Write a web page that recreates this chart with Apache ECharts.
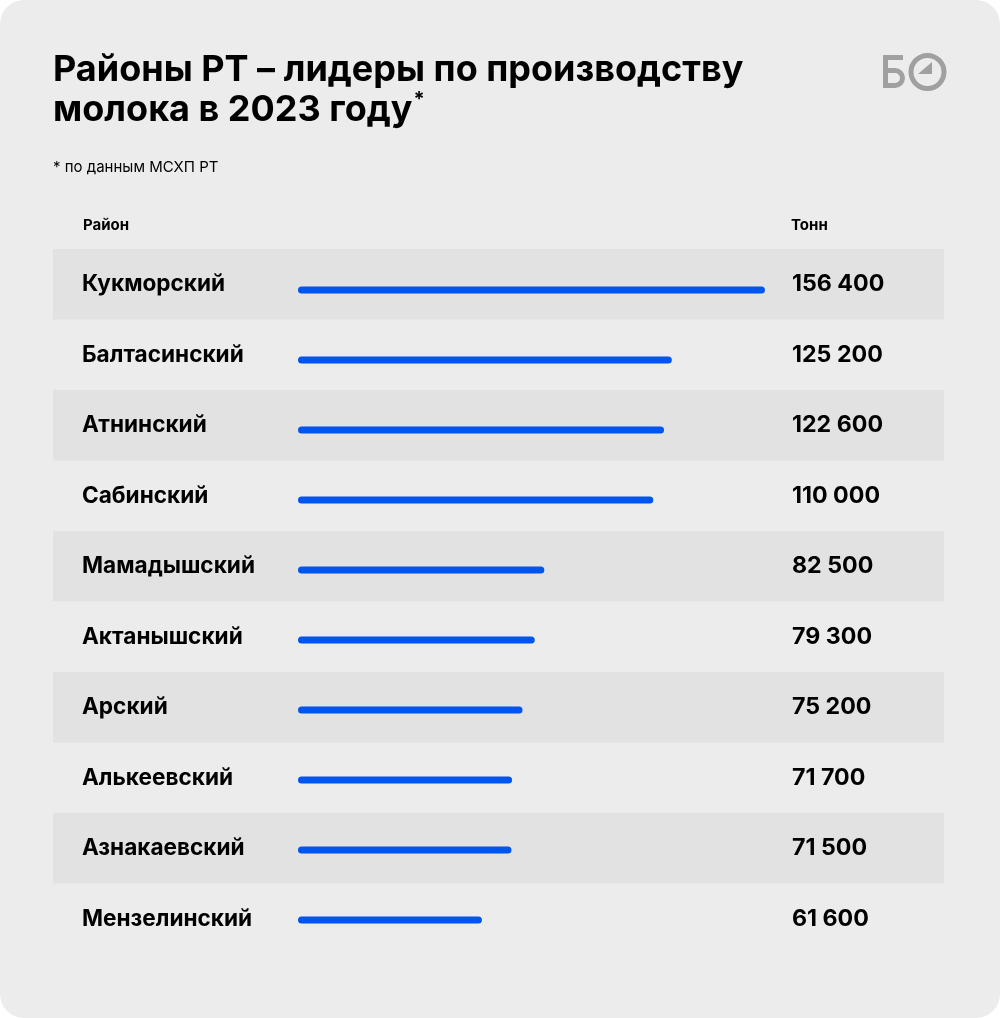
<!DOCTYPE html>
<html><head><meta charset="utf-8">
<script src="https://cdn.jsdelivr.net/npm/echarts@6/dist/echarts.min.js"></script>
<style>
html,body{margin:0;padding:0;background:#ffffff;}
#chart{width:1000px;height:1018px;background:#ececec;border-radius:24px;overflow:hidden;}
</style></head>
<body><div id="chart"></div>
<script>
const districts = ['Кукморский','Балтасинский','Атнинский','Сабинский','Мамадышский','Актанышский','Арский','Алькеевский','Азнакаевский','Мензелинский'];
// printed values, tonnes
const tonnes = [156400,125200,122600,110000,82500,79300,75200,71700,71500,61600];
// bar lengths as drawn in the picture (the Сабинский bar is drawn longer than its printed value)
const barValues = [156400,125200,122600,119000,82500,79300,75200,71700,71500,61600];

const FONT = 'Inter';
function fmt(v){ return String(v).replace(/\B(?=(\d{3})+(?!\d))/g,' '); }
const valueLabels = tonnes.map(fmt);

const chart = echarts.init(document.getElementById('chart'), null, {renderer:'canvas'});
chart.setOption({
  backgroundColor: 'transparent',
  animation: false,
  textStyle: {fontFamily: FONT},
  title: [{
    text: 'Районы РТ – лидеры по производству\n{m|молока в 2023 году}{s|*}',
    left: 48, top: 45,
    textStyle: {
      fontFamily: FONT, fontSize: 36, fontWeight: 700, color: '#000', lineHeight: 40,
      rich: {
        m: {fontFamily: FONT, fontSize: 36, fontWeight: 700, color: '#000', lineHeight: 40},
        s: {fontFamily: FONT, fontSize: 20, fontWeight: 700, color: '#000', lineHeight: 40, verticalAlign: 'top', padding: [0,0,12,1]}
      }
    }
  },{
    text: '* по данным МСХП РТ', left: 48, top: 155,
    textStyle: {fontFamily: FONT, fontSize: 15, fontWeight: 400, color: '#000'}
  },{
    text: 'Район', left: 78, top: 213,
    textStyle: {fontFamily: FONT, fontSize: 15, fontWeight: 700, color: '#000'}
  },{
    text: 'Тонн', left: 786, top: 213,
    textStyle: {fontFamily: FONT, fontSize: 15, fontWeight: 700, color: '#000'}
  }],
  grid: [
    {left: 53, right: 56, top: 249, bottom: 64},
    {left: 298, right: 224.3, top: 255, bottom: 63}
  ],
  xAxis: [
    {gridIndex: 0, type: 'value', min: 0, max: 1, show: false},
    {gridIndex: 1, type: 'value', min: 0, max: 160000, show: false}
  ],
  yAxis: [
    {gridIndex: 0, type: 'category', data: districts, inverse: true,
     axisLine: {show: false}, axisTick: {show: false},
     splitArea: {show: true, areaStyle: {color: ['#e2e2e2', 'rgba(0,0,0,0)']}},
     axisLabel: {align: 'left', margin: -29, padding: [4,0,0,0], color: '#000', fontFamily: FONT, fontSize: 22.6, fontWeight: 700}},
    {gridIndex: 0, type: 'category', data: valueLabels, inverse: true, position: 'right',
     axisLine: {show: false}, axisTick: {show: false}, splitArea: {show: false},
     axisLabel: {align: 'left', margin: -152, padding: [4,0,0,0], color: '#000', fontFamily: FONT, fontSize: 23.2, fontWeight: 700}},
    {gridIndex: 1, type: 'category', data: districts, inverse: true, show: false}
  ],
  series: [{
    type: 'bar', xAxisIndex: 1, yAxisIndex: 2, data: barValues,
    barWidth: 7, itemStyle: {color: '#0055ef', borderRadius: 3.5}
  }],
  graphic: [
    {type: 'rect', shape: {x: 883, y: 55, width: 20, height: 5}, style: {fill: '#a0a0a0'}},
    {type: 'rect', shape: {x: 883, y: 55, width: 5, height: 33}, style: {fill: '#a0a0a0'}},
    {type: 'rect', shape: {x: 883, y: 68, width: 12, height: 5}, style: {fill: '#a0a0a0'}},
    {type: 'rect', shape: {x: 883, y: 83, width: 12, height: 5}, style: {fill: '#a0a0a0'}},
    {type: 'arc', shape: {cx: 895, cy: 78, r: 7.5, startAngle: -Math.PI/2, endAngle: Math.PI/2, clockwise: true},
     style: {fill: 'none', stroke: '#a0a0a0', lineWidth: 5}},
    {type: 'circle', shape: {cx: 927.5, cy: 72, r: 16.5}, style: {fill: 'none', stroke: '#a0a0a0', lineWidth: 5}},
    {type: 'polygon', shape: {points: [[918,74],[932,74],[932,62]]}, style: {fill: '#a0a0a0'}}
  ]
});
</script></body></html>
